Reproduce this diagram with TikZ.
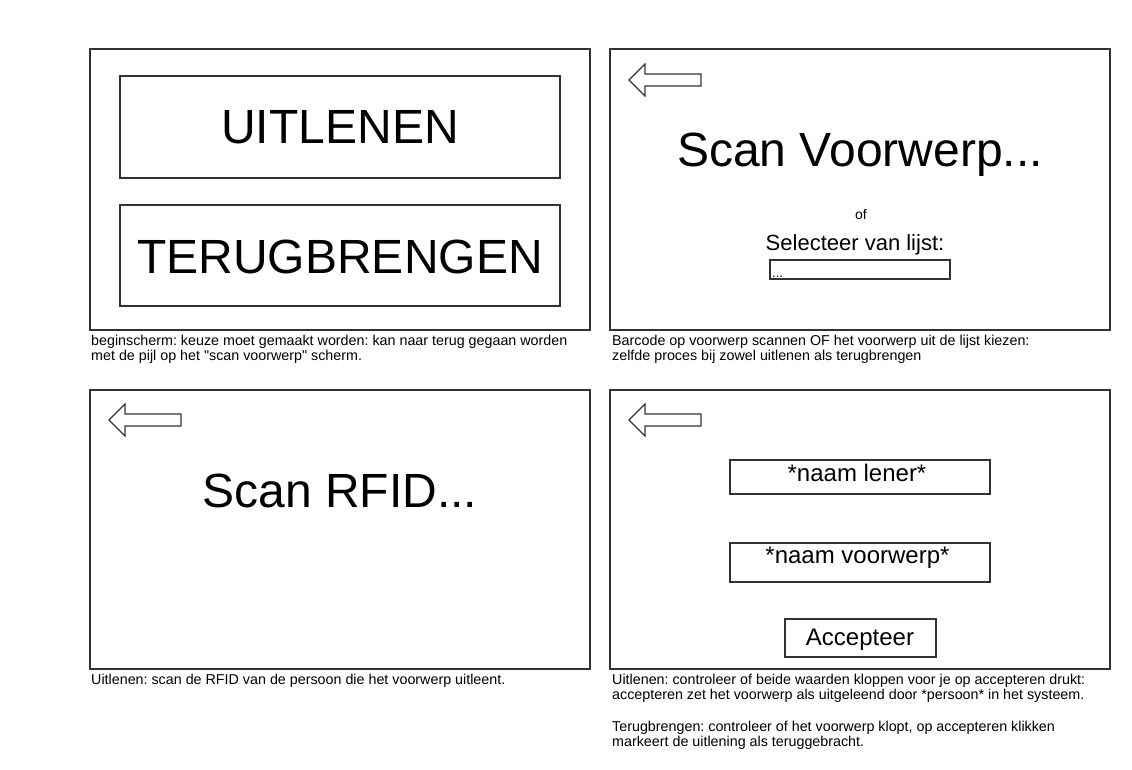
\documentclass[tikz,border=0pt]{standalone}
\usepackage{fontspec}
\setmainfont{Liberation Sans}
\newfontfamily\qf{Liberation Sans}
\frenchspacing
\definecolor{ln}{HTML}{333333}
\newcommand{\fsz}[1]{\fontsize{#1}{#1}\selectfont}
\newcommand{\sq}{{\qf\char34}}
\tikzset{
  panel/.style={draw=ln, line width=1.4pt, anchor=north west, inner sep=0pt, outer sep=0pt},
  ubox/.style={draw=ln, line width=1.4pt, anchor=north west, inner sep=0pt, outer sep=0pt},
  big/.style={anchor=base, inner sep=0pt, font=\fsz{48}},
  mid/.style={anchor=base, inner sep=0pt, font=\fsz{24}},
  captext/.style={anchor=base west, inner sep=0pt, font=\fsz{14.3}},
  backarrow/.pic={\draw[draw=ln, line width=1.2pt, fill=white] (0,0) -- (16,-16) -- (16,-6) -- (72,-6) -- (72,6) -- (16,6) -- (16,16) -- cycle;}
}
\begin{document}
\begin{tikzpicture}[x=1pt, y=-1pt]
\useasboundingbox (0,0) rectangle (1132,770);
\fill[white] (0,0) rectangle (1132,770);

% panels
\node[panel, minimum width=500pt, minimum height=281pt] (p1) at (90,49) {};
\node[panel, minimum width=500pt, minimum height=281pt] (p2) at (610,49) {};
\node[panel, minimum width=500pt, minimum height=279pt] (p3) at (90,390) {};
\node[panel, minimum width=500pt, minimum height=279pt] (p4) at (610,390) {};

% panel 1
\node[ubox, minimum width=440pt, minimum height=102pt] (b1) at (120,76) {};
\node[ubox, minimum width=440pt, minimum height=101pt] (b2) at (120,205) {};
\node[big] (t1) at (340,144) {UITLENEN};
\node[big] (t2) at (340,273) {TERUGBRENGEN};

% panel 2
\pic at (629,80) {backarrow};
\node[big] (t3) at (860,167) {Scan Voorwerp...};
\node[anchor=base, inner sep=0pt, font=\fsz{14}] (t4) at (861,219) {of};
\node[anchor=base, inner sep=0pt, font=\fsz{22}] (t5) at (855,250) {Selecteer van lijst:};
\node[ubox, line width=1.3pt, minimum width=180pt, minimum height=19pt] (b3) at (770,260) {};
\node[anchor=base west, inner sep=0pt, font=\fsz{13}] (t6) at (772,277) {...};

% panel 3
\pic at (109,420) {backarrow};
\node[big] (t7) at (340,507) {Scan RFID...};

% panel 4
\pic at (629,420) {backarrow};
\node[ubox, minimum width=260pt, minimum height=34pt] (b4) at (730,460) {};
\node[mid] (t8) at (857,481) {*naam lener*};
\node[ubox, minimum width=260pt, minimum height=39pt] (b5) at (730,543) {};
\node[mid] (t9) at (857.5,563) {*naam voorwerp*};
\node[ubox, minimum width=151pt, minimum height=38pt] (b6) at (785,619) {};
\node[mid] (t10) at (860,645) {Accepteer};

% captions
\node[captext] (c1a) at (91,345) {beginscherm: keuze moet gemaakt worden: kan naar terug gegaan worden};
\node[captext] (c1b) at (91,360) {met de pijl op het \sq scan voorwerp\sq{} scherm.};
\node[captext] (c2a) at (612,345) {Barcode op voorwerp scannen OF het voorwerp uit de lijst kiezen:};
\node[captext] (c2b) at (612,360) {zelfde proces bij zowel uitlenen als terugbrengen};
\node[captext] (c3a) at (91,684) {Uitlenen: scan de RFID van de persoon die het voorwerp uitleent.};
\node[captext] (c4a) at (612,684) {Uitlenen: controleer of beide waarden kloppen voor je op accepteren drukt:};
\node[captext] (c4b) at (612,699) {accepteren zet het voorwerp als uitgeleend door *persoon* in het systeem.};
\node[captext] (c4c) at (612,731.5) {Terugbrengen: controleer of het voorwerp klopt, op accepteren klikken};
\node[captext] (c4d) at (612,746.5) {markeert de uitlening als teruggebracht.};
\end{tikzpicture}
\end{document}
